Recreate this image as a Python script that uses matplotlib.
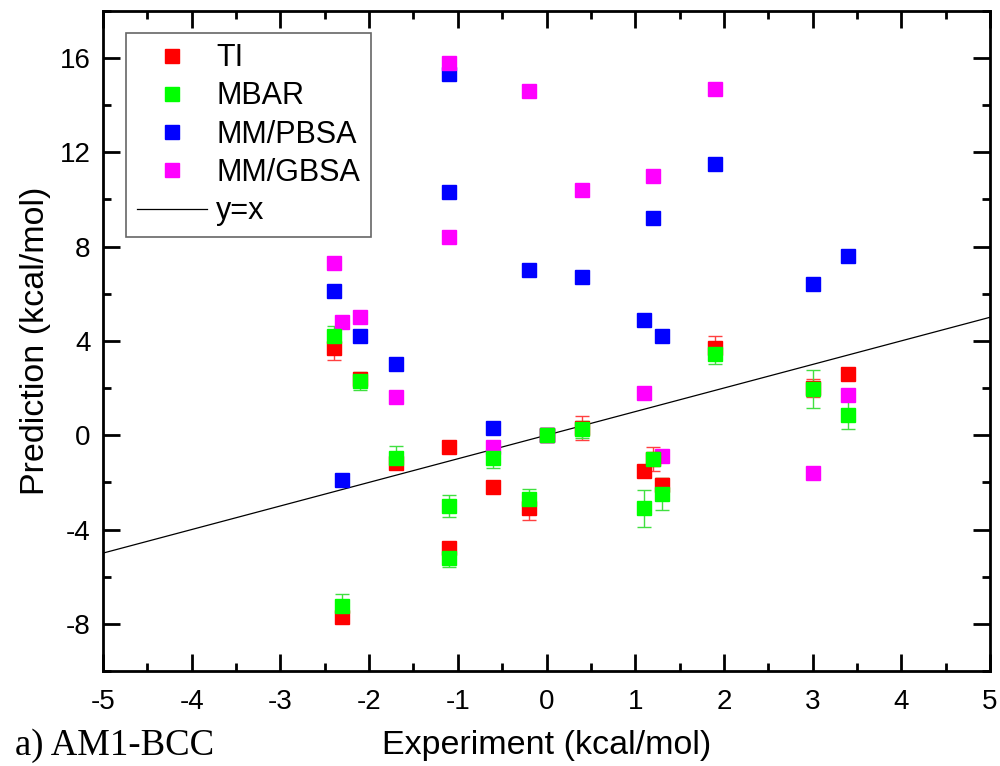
import numpy as np
import matplotlib
matplotlib.use('Agg')
import matplotlib.pyplot as plt
from matplotlib.ticker import MultipleLocator
from matplotlib.lines import Line2D

plt.rcParams['font.family'] = ['Liberation Sans', 'DejaVu Sans']
plt.rcParams['axes.unicode_minus'] = False

# Experimental binding free energies (kcal/mol)
experiment = [-2.4, -2.3, -2.1, -1.7, -1.1, -1.1, -0.6, -0.2, 0.0,
              0.4, 1.1, 1.2, 1.3, 1.9, 3.0, 3.4]

# Predictions (kcal/mol)
ti = [3.7, -7.7, 2.4, -1.2, -0.5, -4.8, -2.2, -3.1, 0.0,
      0.3, -1.5, -1.0, -2.1, 3.7, 2.0, 2.6]
ti_err = [0.5, 0.2, 0.25, 0.25, 0.0, 0.15, 0.0, 0.5, 0.0,
          0.5, 0.0, 0.5, 0.3, 0.5, 0.4, 0.0]
mbar = [4.2, -7.25, 2.3, -0.95, -3.0, -5.2, -0.95, -2.7, 0.0,
        0.25, -3.1, -1.0, -2.5, 3.45, 1.97, 0.85]
mbar_err = [0.45, 0.5, 0.4, 0.5, 0.48, 0.4, 0.45, 0.4, 0.0,
            0.35, 0.78, 0.15, 0.68, 0.45, 0.8, 0.6]
mm_pbsa = [6.1, -1.9, 4.2, 3.0, 15.3, 10.3, 0.3, 7.0, 0.0,
           6.7, 4.9, 9.2, 4.2, 11.5, 6.4, 7.6]
mm_gbsa = [7.3, 4.8, 5.0, 1.6, 15.8, 8.4, -0.5, 14.6, 0.0,
           10.4, 1.8, 11.0, -0.9, 14.7, -1.6, 1.7]

colors = ['#ff0000', '#00ff00', '#0000ff', '#ff00ff']
names = ['TI', 'MBAR', 'MM/PBSA', 'MM/GBSA']

fig = plt.figure(figsize=(10, 7.66), dpi=100)
ax = fig.add_axes([0.103, 0.124, 0.887, 0.862])

ms = 10.5
ax.errorbar(experiment, ti, yerr=ti_err, fmt='s', color=colors[0], ms=ms,
            ecolor='#ff4040', elinewidth=1.0, capsize=4.7,
            capthick=1.0, zorder=3)
ax.errorbar(experiment, mbar, yerr=mbar_err, fmt='s', color=colors[1], ms=ms,
            ecolor='#40e040', elinewidth=1.0, capsize=4.7,
            capthick=1.0, zorder=3)
ax.plot(experiment, mm_pbsa, 's', color=colors[2], ms=ms, zorder=3)
ax.plot(experiment, mm_gbsa, 's', color=colors[3], ms=ms, zorder=3)

line_x = np.array([-5, 5])
ax.plot(line_x, line_x, color='black', lw=0.9, zorder=2)

ax.set_xlim(-5, 5)
ax.set_ylim(-10, 18)
ax.xaxis.set_major_locator(MultipleLocator(1))
ax.xaxis.set_minor_locator(MultipleLocator(0.5))
ax.yaxis.set_minor_locator(MultipleLocator(2))
ax.set_yticks([-8, -4, 0, 4, 8, 12, 16])

for s in ax.spines.values():
    s.set_linewidth(2)
ax.tick_params(which='both', direction='in', top=True, right=True, width=2,
               labelsize=20)
ax.tick_params(axis='x', which='major', length=12, pad=13)
ax.tick_params(axis='y', which='major', length=12, pad=9)
ax.tick_params(which='minor', length=6)

ax.set_xlabel('Experiment (kcal/mol)', fontsize=24.5, labelpad=11)
ax.set_ylabel('Prediction (kcal/mol)', fontsize=24.5, labelpad=6)

leg_handles = [Line2D([], [], marker='s', ls='none', color=c, ms=ms) for c in colors]
leg_handles.append(Line2D([], [], color='black', lw=0.9))
leg = ax.legend(leg_handles, names + ['y=x'],
                loc='upper left', bbox_to_anchor=(0.026, 0.967), fontsize=22,
                frameon=True, fancybox=False, edgecolor='#404040',
                handlelength=2.3, handletextpad=0.3, labelspacing=0.27,
                borderpad=0.35, borderaxespad=0)
leg.get_frame().set_linewidth(1.2)

fig.text(0.015, 0.014, 'a) AM1-BCC', fontsize=26.5, family='Liberation Serif')

fig.savefig('out.png', dpi=100)
